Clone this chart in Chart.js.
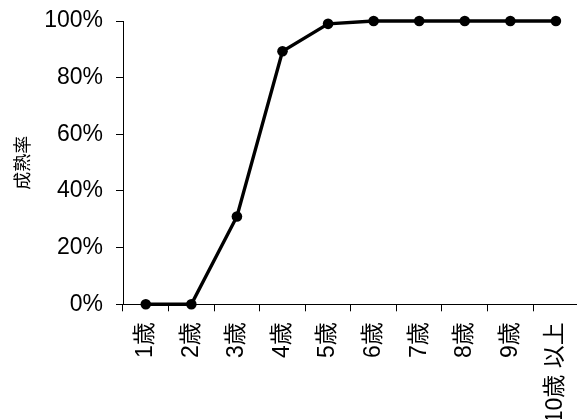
<!DOCTYPE html>
<html>
<head>
<meta charset="utf-8">
<script src="https://cdn.jsdelivr.net/npm/chart.js@4"></script>
<style>
  html, body { margin: 0; padding: 0; overflow: hidden; background: #fff; }
  #wrap { width: 584px; height: 419px; position: relative; }
</style>
</head>
<body>
<div id="wrap"><canvas id="chart"></canvas></div>
<script>
const AGES = ['1歳', '2歳', '3歳', '4歳', '5歳', '6歳', '7歳', '8歳', '9歳', '10歳 以上'];
const MATURITY = [0, 0, 31, 89.3, 99, 100, 100, 100, 100, 100];
const Y_TITLE = '成熟率';

const FONT = '"Liberation Sans", Arial, "Noto Sans CJK JP", sans-serif';

let ctx = document.getElementById('chart').getContext('2d');
let config = {
    type: 'line',
    data: {
        labels: AGES,
        datasets: [
            {
                data: MATURITY,
                borderColor: '#000',
                backgroundColor: '#000',
                borderWidth: 3.4,
                pointRadius: 5.3,
                pointBackgroundColor: '#000',
                pointBorderWidth: 0,
                tension: 0,
                clip: false
            }
        ]
    },
    options: {
        responsive: true,
        maintainAspectRatio: false,
        animation: false,
        layout: {
            padding: { top: 21, left: 0, right: 0, bottom: 0 }
        },
        plugins: {
            legend: { display: false },
            tooltip: { enabled: false }
        },
        scales: {
            x: {
                offset: true,
                afterFit: (scale) => {
                    scale.height = 114.7;
                    scale.paddingLeft = 0;
                    scale.paddingRight = 0;
                },
                grid: {
                    offset: true,
                    drawOnChartArea: false,
                    drawTicks: true,
                    tickLength: 7,
                    color: '#000'
                },
                border: { display: true, color: '#000', width: 1 },
                ticks: {
                    color: '#000',
                    maxRotation: 90,
                    minRotation: 90,
                    autoSkip: false,
                    padding: 11,
                    font: { family: FONT, size: 23 }
                }
            },
            y: {
                min: 0,
                max: 100,
                afterFit: (scale) => {
                    scale.width = 123;
                    scale.paddingTop = 0;
                    scale.paddingBottom = 0;
                },
                grid: {
                    drawOnChartArea: false,
                    drawTicks: true,
                    tickLength: 7,
                    color: '#000'
                },
                border: { display: true, color: '#000', width: 1 },
                ticks: {
                    stepSize: 20,
                    color: '#000',
                    padding: 13,
                    font: { family: FONT, size: 23 },
                    callback: (v) => v + '%'
                },
                title: {
                    display: true,
                    text: Y_TITLE,
                    color: '#000',
                    padding: { top: 13, bottom: 0 },
                    font: { family: FONT, size: 18 }
                }
            }
        }
    }
};

new Chart(ctx, config);
</script>
</body>
</html>
